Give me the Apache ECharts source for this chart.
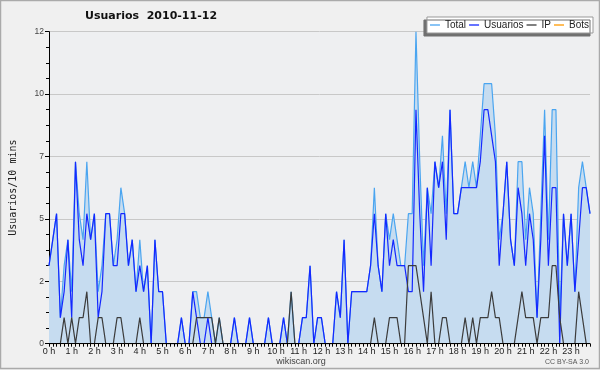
<!DOCTYPE html>
<html><head><meta charset="utf-8">
<script src="https://cdn.jsdelivr.net/npm/echarts@6/dist/echarts.min.js"></script>
<style>html,body{margin:0;padding:0;background:#f0f0f0}#c{width:600px;height:370px}</style>
</head><body><div id="c"></div>
<script>
const hourLabels = ['0 h','1 h','2 h','3 h','4 h','5 h','6 h','7 h','8 h','9 h','10 h','11 h',
  '12 h','13 h','14 h','15 h','16 h','17 h','18 h','19 h','20 h','21 h','22 h','23 h'];
const minuteLabels = ['00','10','20','30','40','50'];
const yTicks = [0, 2.4, 4.8, 7.2, 9.6, 12];

const total = [
  3,4,5,1,3,4,2,7,5,4,7,4,
  5,2,3,5,5,3,4,6,5,3,4,2,
  4,2,3,0,4,2,2,0,0,0,0,1,
  0,0,2,2,1,1,2,1,0,1,0,0,
  0,1,0,0,0,1,0,0,0,0,1,0,
  0,0,1,0,2,0,0,1,1,3,0,1,
  1,0,0,0,2,1,4,0,2,2,2,2,
  2,3,6,3,2,5,4,5,4,3,3,5,
  5,12,7,3,6,5,7,6,8,5,9,5,
  5,6,7,6,7,6,8,10,10,10,8,4,
  5,7,4,3,7,7,4,6,5,1,5,9,
  4,9,9,1,5,3,5,2,6,7,6,5
];
const usuarios = [
  3,4,5,1,2,4,1,7,4,3,5,4,
  5,1,2,5,5,3,3,5,5,3,4,2,
  3,2,3,0,4,2,2,0,0,0,0,1,
  0,0,2,1,0,0,1,0,0,0,0,0,
  0,1,0,0,0,1,0,0,0,0,1,0,
  0,0,1,0,0,0,0,1,1,3,0,1,
  1,0,0,0,2,1,4,0,2,2,2,2,
  2,3,5,3,2,5,3,4,3,3,3,2,
  2,9,5,2,6,3,7,6,7,4,9,5,
  5,6,6,6,6,6,7,9,9,8,7,3,
  5,7,4,3,6,5,3,5,4,1,4,8,
  3,6,6,0,5,3,5,2,4,6,6,5
];
const ip = [
  0,0,0,0,1,0,1,0,1,1,2,0,
  0,1,1,0,0,0,1,1,0,0,0,0,
  1,0,0,0,0,0,0,0,0,0,0,0,
  0,0,0,1,1,1,1,1,0,1,0,0,
  0,0,0,0,0,0,0,0,0,0,0,0,
  0,0,0,0,2,0,0,0,0,0,0,0,
  0,0,0,0,0,0,0,0,0,0,0,0,
  0,0,1,0,0,0,1,1,1,0,0,3,
  3,3,2,1,0,2,0,0,1,1,0,0,
  0,0,1,0,1,0,1,1,1,2,1,1,
  0,0,0,0,1,2,1,1,1,0,1,1,
  1,3,3,1,0,0,0,0,2,1,0,0
];
const bots = [
  0,0,0,0,0,0,0,0,0,0,0,0,
  0,0,0,0,0,0,0,0,0,0,0,0,
  0,0,0,0,0,0,0,0,0,0,0,0,
  0,0,0,0,0,0,0,0,0,0,0,0,
  0,0,0,0,0,0,0,0,0,0,0,0,
  0,0,0,0,0,0,0,0,0,0,0,0,
  0,0,0,0,0,0,0,0,0,0,0,0,
  0,0,0,0,0,0,0,0,0,0,0,0,
  0,0,0,0,0,0,0,0,0,0,0,0,
  0,0,0,0,0,0,0,0,0,0,0,0,
  0,0,0,0,0,0,0,0,0,0,0,0,
  0,0,0,0,0,0,0,0,0,0,0,0
];

const categories = [];
hourLabels.forEach((h, hi) => minuteLabels.forEach(m => categories.push(hi + ':' + m)));

const chart = echarts.init(document.getElementById('c'), null, {renderer: 'canvas'});
const lineSeries = (name, data, color, extra) => Object.assign({
  name, type: 'line', data, symbol: 'none', showSymbol: false,
  lineStyle: {color, width: 1.2}, itemStyle: {color},
  emphasis: {disabled: true}
}, extra || {});

chart.setOption({
  animation: false,
  backgroundColor: '#f0f0f0',
  grid: {left: 46, right: 10, top: 31.7, bottom: 26.3, show: true, backgroundColor: '#eeeff1', borderWidth: 0},
  legend: {
    right: 7, top: 17,
    data: ['Total', 'Usuarios', 'IP', 'Bots'],
    icon: 'rect', itemWidth: 10, itemHeight: 1.3, itemGap: 3,
    padding: [3, 4, 3, 3],
    backgroundColor: '#ffffff', borderColor: '#999', borderWidth: 1,
    shadowColor: '#707070', shadowOffsetX: -3, shadowOffsetY: 3, shadowBlur: 0,
    textStyle: {fontFamily: 'Liberation Sans', fontSize: 10, color: '#222'}
  },
  xAxis: {
    type: 'category', boundaryGap: false, data: categories, z: 10,
    axisLine: {lineStyle: {color: '#000', width: 1}},
    axisTick: {interval: 0, length: 3, lineStyle: {color: '#000'}},
    axisLabel: {
      interval: 5, margin: 3, fontFamily: 'Liberation Sans', fontSize: 9, color: '#222',
      formatter: (v, i) => hourLabels[Math.floor(i / 6)]
    },
    splitLine: {show: false}
  },
  yAxis: {
    type: 'value', min: yTicks[0], max: yTicks[yTicks.length - 1], interval: yTicks[1],
    name: 'Usuarios/10 mins', nameLocation: 'middle', nameGap: 31,
    nameTextStyle: {fontFamily: 'DejaVu Sans Mono', fontSize: 10, color: '#222'},
    axisLine: {show: true, lineStyle: {color: '#000', width: 1}},
    axisTick: {show: true, length: 4, lineStyle: {color: '#000'}},
    minorTick: {show: true, splitNumber: 4, length: 3, lineStyle: {color: '#000'}},
    axisLabel: {margin: 5, fontFamily: 'Liberation Sans', fontSize: 8.5, color: '#444',
      formatter: v => String(Math.round(v))},
    splitLine: {lineStyle: {color: '#c8c8c8', width: 1}}
  },
  series: [
    lineSeries('Total', total, '#4aa5f0', {areaStyle: {color: '#c6dcf0', opacity: 1}}),
    lineSeries('Usuarios', usuarios, '#1428ff'),
    lineSeries('IP', ip, '#3c3c3c'),
    lineSeries('Bots', bots, '#ff9900')
  ],
  graphic: [
    {type: 'rect', shape: {x: 0.5, y: 0.5, width: 599, height: 368}, style: {fill: 'none', stroke: '#aaaaaa', lineWidth: 1.5}, silent: true},
    {type: 'text', x: 85, y: 16.5, style: {text: 'Usuarios  2010-11-12', fontFamily: 'DejaVu Sans', fontWeight: 'bold', fontSize: 11, fill: '#111', verticalAlign: 'middle', align: 'left'}},
    {type: 'text', x: 301, y: 362, style: {text: 'wikiscan.org', fontFamily: 'Liberation Sans', fontSize: 9, fill: '#444', verticalAlign: 'middle', align: 'center'}},
    {type: 'text', x: 589, y: 362, style: {text: 'CC BY-SA 3.0', fontFamily: 'Liberation Sans', fontSize: 7, fill: '#555', verticalAlign: 'middle', align: 'right'}}
  ]
});
</script></body></html>
